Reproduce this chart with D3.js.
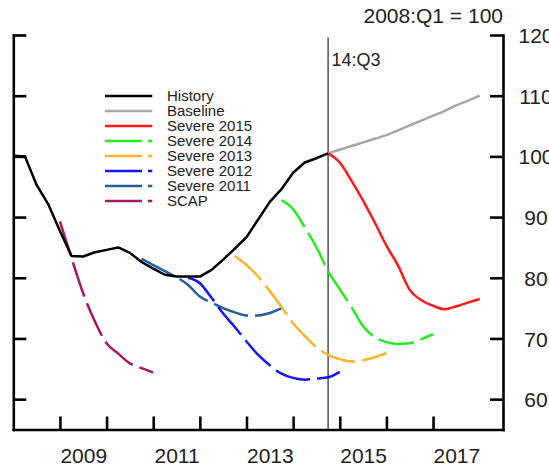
<!DOCTYPE html>
<html>
<head>
<meta charset="utf-8">
<script src="https://cdn.jsdelivr.net/npm/d3@7/dist/d3.min.js"></script>
<style>
  html, body { margin: 0; padding: 0; background: #fff; }
  svg { display: block; }
  text { font-family: "Liberation Sans", Arial, Helvetica, sans-serif; fill: #222; }
</style>
</head>
<body>
<script>
// ---------------- DATA ----------------
// Quarter labels are "YYYY:Qn"; each series lists quarterly values from its start quarter.
const historyStart = "2007:Q4";
const historyValues = [100.1, 100.0, 95.3, 92.1, 87.7, 83.6, 83.5, 84.2, 84.6, 85.0, 84.1, 82.6, 81.5, 80.5,
  80.2, 80.2, 80.2, 81.3, 83.0, 84.8, 86.7, 89.6, 92.5, 94.6, 97.3, 99.0, 99.7, 100.5];

const baselineStart = "2014:Q3";
const baselineValues = [100.5, 101.1, 101.7, 102.3, 102.9, 103.5, 104.3, 105.1, 105.9, 106.7, 107.5, 108.4, 109.2, 110.0];

const severe2015Start = "2014:Q3";
const severe2015Values = [100.5, 99.0, 96.0, 92.7, 89.1, 85.3, 82.0, 78.0, 76.3, 75.4, 74.8, 75.3, 75.9, 76.5];

const severe2014Start = "2013:Q3";
const severe2014Values = [92.8, 91.3, 88.3, 85.0, 81.1, 78.1, 75.2, 72.0, 70.2, 69.4, 69.1, 69.2, 69.9, 70.7];

const severe2013Start = "2012:Q3";
const severe2013Values = [83.6, 82.1, 80.2, 77.8, 75.2, 72.5, 70.4, 68.6, 67.3, 66.6, 66.2, 66.4, 66.9, 67.6];

const severe2012Start = "2011:Q3";
const severe2012Values = [80.0, 79.1, 76.7, 74.1, 71.9, 69.5, 67.3, 65.6, 64.2, 63.5, 63.2, 63.4, 63.6, 64.5];

const severe2011Start = "2010:Q3";
const severe2011Values = [83.1, 82.1, 81.1, 80.1, 78.8, 76.9, 75.9, 75.0, 74.3, 73.8, 73.8, 74.2, 75.0];

const scapStart = "2008:Q4";
const scapValues = [89.3, 83.2, 77.4, 72.8, 69.2, 67.5, 65.9, 65.1, 64.4];

const seriesNames = ["History", "Baseline", "Severe 2015", "Severe 2014", "Severe 2013", "Severe 2012", "Severe 2011", "SCAP"];
const seriesColors = ["#000000", "#a6a6a6", "#ff1a1a", "#22ee22", "#ffb42e", "#1414ff", "#1f5f9f", "#a3196a"];
const seriesDashed = [false, false, false, true, true, true, true, true];

const yTicks = [60, 70, 80, 90, 100, 110, 120];
const xTickYears = [2009, 2010, 2011, 2012, 2013, 2014, 2015, 2016, 2017];
const xLabelYears = [2009, 2011, 2013, 2015, 2017];
const markerQuarter = "2014:Q3";
const markerLabel = "14:Q3";
const indexNote = "2008:Q1 = 100";

// ---------------- HELPERS ----------------
// quarter position = year + q/4 (end of quarter)
function qPos(label) {
  const [yr, q] = label.split(":Q").map(Number);
  return yr + q / 4;
}
function toPoints(start, values) {
  const s = qPos(start);
  return values.map((v, i) => ({ t: s + i / 4, v }));
}

const seriesData = [
  toPoints(historyStart, historyValues),
  toPoints(baselineStart, baselineValues),
  toPoints(severe2015Start, severe2015Values),
  toPoints(severe2014Start, severe2014Values),
  toPoints(severe2013Start, severe2013Values),
  toPoints(severe2012Start, severe2012Values),
  toPoints(severe2011Start, severe2011Values),
  toPoints(scapStart, scapValues)
];

// ---------------- CHART ----------------
(function () {
const W = 549, H = 466;
const pLeft = 13.3, pRight = 503, pTop = 35, pBottom = 429.5;

const svg = d3.select("body").append("svg").attr("width", W).attr("height", H);

const x = d3.scaleLinear().domain([2008, 2018.5]).range([pLeft, pRight]);
const y = d3.scaleLinear().domain([55, 120]).range([pBottom, pTop]);

const lineLinear = d3.line().x(d => x(d.t)).y(d => y(d.v));
const lineSmooth = d3.line().curve(d3.curveMonotoneX).x(d => x(d.t)).y(d => y(d.v));

// marker vertical line
svg.append("line")
  .attr("x1", x(qPos(markerQuarter))).attr("x2", x(qPos(markerQuarter)))
  .attr("y1", y(119.6)).attr("y2", pBottom)
  .attr("stroke", "#444").attr("stroke-width", 1.4);

svg.append("text")
  .attr("x", x(qPos(markerQuarter)) + 3.5).attr("y", 65.5)
  .attr("font-size", 18).text(markerLabel);

// lines
const order = [7, 6, 5, 4, 3, 1, 2, 0];
order.forEach(i => {
  svg.append("path")
    .datum(seriesData[i])
    .attr("d", i === 0 ? lineLinear : lineSmooth)
    .attr("fill", "none")
    .attr("stroke", seriesColors[i])
    .attr("stroke-width", 2.5)
    .attr("stroke-linejoin", "round")
    .attr("stroke-dasharray", seriesDashed[i] ? "36,7" : null);
});

// axes
const axisStyle = g => {
  g.select(".domain").attr("stroke", "#000").attr("stroke-width", 2.6).attr("stroke-linecap", "square");
  g.selectAll(".tick line").attr("stroke", "#000").attr("stroke-width", 2.6);
};

svg.append("g")
  .attr("transform", `translate(${pLeft},0)`)
  .call(d3.axisRight(y).tickValues(yTicks).tickSize(13).tickSizeOuter(0).tickFormat(""))
  .call(axisStyle);

const rightAxis = svg.append("g")
  .attr("transform", `translate(${pRight},0)`)
  .call(d3.axisRight(y).tickValues(yTicks).tickSize(-13).tickSizeOuter(0).tickPadding(33))
  .call(axisStyle);
rightAxis.selectAll(".tick text")
  .attr("font-size", 21).attr("font-family", "Liberation Sans, Arial, sans-serif")
  .attr("fill", "#222").attr("text-anchor", "middle").attr("x", 33).attr("dy", "0.36em");

svg.append("g")
  .attr("transform", `translate(0,${pBottom})`)
  .call(d3.axisBottom(x).tickValues(xTickYears).tickSize(-13).tickSizeOuter(0).tickFormat(""))
  .call(axisStyle);

const xl = svg.append("g")
  .attr("transform", `translate(0,${pBottom})`)
  .call(d3.axisBottom(x).tickValues(xLabelYears.map(v => v + 0.5)).tickSize(0).tickFormat(d => String(Math.floor(d))));
xl.select(".domain").remove();
xl.selectAll(".tick text")
  .attr("font-size", 21).attr("font-family", "Liberation Sans, Arial, sans-serif")
  .attr("fill", "#222").attr("y", 33).attr("dy", 0);

// index note
svg.append("text")
  .attr("x", pRight).attr("y", 22.7)
  .attr("text-anchor", "end").attr("font-size", 21).text(indexNote);

// legend
const legend = svg.append("g");
seriesNames.forEach((name, i) => {
  const ly = 96 + i * 15;
  legend.append("line")
    .attr("x1", 105).attr("x2", 152.3).attr("y1", ly).attr("y2", ly)
    .attr("stroke", seriesColors[i]).attr("stroke-width", 2.5)
    .attr("stroke-dasharray", seriesDashed[i] ? "37,6" : null);
  legend.append("text")
    .attr("x", 167).attr("y", ly).attr("dy", "0.36em")
    .attr("font-size", 15).attr("fill", "#333").text(name);
});
})();
</script>
</body>
</html>
